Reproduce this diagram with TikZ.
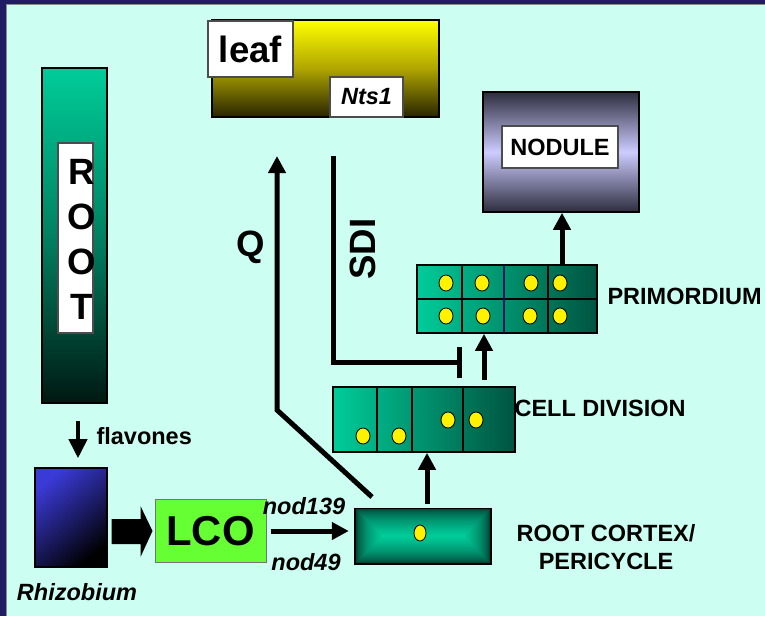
\documentclass[tikz,border=0pt]{standalone}
\usepackage{fontspec}
\setmainfont{Liberation Sans}
\usetikzlibrary{arrows.meta}
\definecolor{slidebg}{RGB}{204,255,242}
\definecolor{frameblue}{RGB}{32,28,100}
\definecolor{tealhi}{RGB}{0,204,153}
\definecolor{tealmid}{RGB}{0,130,98}
\definecolor{tealdk}{RGB}{0,84,64}
\definecolor{tealnight}{RGB}{0,24,18}
\definecolor{tealedge}{RGB}{0,38,29}
\definecolor{leafyel}{RGB}{255,255,0}
\definecolor{leafmid}{RGB}{175,165,0}
\definecolor{leafdk}{RGB}{40,36,0}
\definecolor{nodlight}{RGB}{204,204,255}
\definecolor{noddk}{RGB}{45,45,62}
\definecolor{lcogreen}{RGB}{102,255,51}
\definecolor{rhizoblue}{RGB}{58,58,215}
\definecolor{cellline}{RGB}{20,20,90}
\begin{document}
\begin{tikzpicture}[x=1pt, y=-1pt,
    box/.style={draw=black, line width=1.6pt, inner sep=0pt},
    whitebox/.style={draw=black!70, line width=1.2pt, fill=white, inner sep=0pt},
    lbl/.style={font=\fontsize{23.5}{28}\selectfont\bfseries},
    lbli/.style={font=\fontsize{23.5}{28}\selectfont\bfseries\itshape},
    biglbl/.style={font=\fontsize{36.6}{45}\selectfont\bfseries},
    divider/.style={line width=2.4pt},
    nucleus/.style={draw=black, line width=0.8pt, fill=yellow},
    thickline/.style={line width=5pt},
    arrowline/.style={line width=5pt, -{Triangle[width=17pt,length=17pt]}}]
    \useasboundingbox (0,0) rectangle (765,616);
    \fill[frameblue] (0,0) rectangle (765,616);
    \fill[slidebg] (6,4) rectangle (765,616);
    \draw[black!45, line width=0.8pt] (6,616) -- (6,4) -- (765,4);

    \node[box, top color=tealhi, bottom color=tealnight, middle color=tealmid, minimum width=65pt, minimum height=335pt] (rootbar) at (74.5,235.5) {};
    \node[whitebox, minimum width=35pt, minimum height=190pt] (rootlabel) at (75.5,238) {};
    \node[biglbl, align=center] (roottext) at (82,239.5) {R\\O\\O\\T};

    \node[box, top color=leafyel, bottom color=leafdk, middle color=leafmid, minimum width=227pt, minimum height=97pt] (leaf) at (325.5,68.5) {};
    \node[whitebox, biglbl, minimum width=85pt, minimum height=56pt] (leaflabel) at (250.5,49) {leaf};
    \node[whitebox, lbli, minimum width=73pt, minimum height=40pt] (nts) at (366.5,97) {Nts1};

    \node[box, top color=noddk, bottom color=noddk, middle color=nodlight, minimum width=156pt, minimum height=120pt] (nodule) at (561,152) {};
    \node[whitebox, lbl, minimum width=116pt, minimum height=42pt] (nodulelabel) at (560,147) {NODULE};

    \node[box, left color=tealhi, right color=tealdk, minimum width=180pt, minimum height=68pt] (prim) at (507,299) {};
    \draw[divider] (prim.west) -- (prim.east);
    \foreach \x in {462,548}{
        \draw[divider] (\x,265) -- (\x,333);
    }
    \draw[cellline, line width=1.2pt] (504,265) -- (504,333);
    \foreach \x/\y in {446/283, 482/283, 531/283, 560/283, 446/316, 483/316, 530/316, 560/316}{
        \draw[nucleus] (\x,\y) ellipse (7pt and 8pt);
    }

    \node[box, left color=tealhi, right color=tealdk, minimum width=182pt, minimum height=65pt] (cell) at (424,419.5) {};
    \foreach \x in {377,412,463}{
        \draw[divider] (\x,387) -- (\x,452);
    }
    \foreach \x/\y in {363/436, 399/436, 448/420, 476/420}{
        \draw[nucleus] (\x,\y) ellipse (7pt and 8pt);
    }

    \node[inner sep=0pt, minimum width=136pt, minimum height=55pt] (cortex) at (423,536) {};
    \foreach \i [evaluate=\i as \p using int(100*sqrt(\i/27))] in {0,...,27}{
        \fill[tealhi!\p!tealedge] ([shift={(\i,\i)}]cortex.north west) rectangle ([shift={(-\i,-\i)}]cortex.south east);
    }
    \draw[line width=1.6pt] (cortex.north west) rectangle (cortex.south east);
    \draw[nucleus] (420,533) ellipse (6pt and 8pt);

    \node[draw=black!55, line width=1pt, fill=lcogreen, minimum width=111pt, minimum height=63pt, inner sep=0pt, font=\fontsize{41.8}{48}\selectfont\bfseries] (lco) at (210.5,531) {LCO};

    \node[box, top color=rhizoblue, bottom color=black, shading angle=40, minimum width=72pt, minimum height=99pt] (rhizo) at (71,517.5) {};

    \node[lbl, anchor=west] (primlabel) at (604,296) {PRIMORDIUM};
    \node[lbl, anchor=west] (celllabel) at (511,408) {CELL DIVISION};
    \node[lbl, align=center] (cortexlabel) at (606,547) {ROOT CORTEX/\\PERICYCLE};
    \node[lbl, anchor=west] (flavlabel) at (93,436) {flavones};
    \node[lbli] (rhizolabel) at (77,592) {Rhizobium};
    \node[lbli] (nodtop) at (304,506) {nod139};
    \node[lbli] (nodbottom) at (306,562) {nod49};
    \node[biglbl] (qlabel) at (251,247) {Q};
    \node[biglbl, rotate=90] (sdilabel) at (363,249) {SDI};

    \coordinate (qfoot) at (372,497);
    \coordinate (qbend) at (277,410);
    \coordinate (qtip) at (277,156);
    \draw[arrowline] (qfoot) -- (qbend) -- (qtip);

    \coordinate (sditop) at (333,156);
    \coordinate (sdiend) at (462,362);
    \draw[thickline, -{Bar[width=31pt]}] (sditop) |- (sdiend);

    \draw[arrowline, shorten <=6pt] ([xshift=60pt]cell.north) -- ([xshift=-23pt]prim.south);
    \draw[arrowline] ([xshift=55pt]prim.north) -- ([xshift=1pt]nodule.south);
    \draw[arrowline, shorten <=4pt] ([xshift=4pt]cortex.north) -- ([xshift=3pt]cell.south);
    \draw[arrowline, shorten <=4pt, shorten >=6pt] (lco.east) -- (lco.east -| cortex.west);
    \draw[line width=4pt, -{Triangle[width=18pt,length=19pt]}, shorten <=17pt, shorten >=9pt] ([xshift=3.5pt]rootbar.south) -- ([xshift=7pt]rhizo.north);
    \fill[shift={(lco.west)}] (-43,-12) -- (-14,-12) -- (-14,-25) -- (-2,0) -- (-14,26) -- (-14,13) -- (-43,13) -- cycle;
\end{tikzpicture}
\end{document}
